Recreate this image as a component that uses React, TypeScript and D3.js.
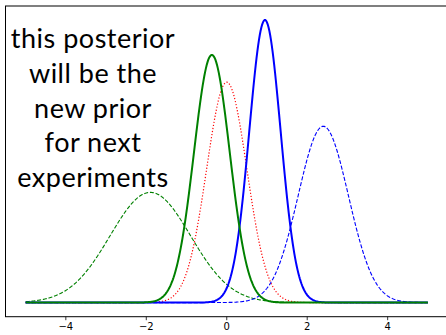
import React from 'react'
import * as d3 from 'd3'

// curve parameters (normal pdfs)
const curveNames = ['prior2', 'likelihood1', 'prior1', 'posterior1', 'posterior2']
const curveMeans = [-1.9, 0.0, 2.4, 0.95, -0.37]
const curveSigmas = [1.0, 0.5, 0.625, 0.39, 0.445]
const curveColors = ['green', 'red', 'blue', 'blue', 'green']
const curveDash = ['4,1.8', '1.2,1.9', '4,1.8', '', '']
const curveWidths = [1.1, 1.2, 1.1, 2, 2]

const xTicks = [-4, -2, 0, 2, 4]
const noteLines = ['this posterior', 'will be the', 'new prior', 'for next', 'experiments']

const W = 446
const H = 335
const margin = { left: 5.5, top: 6, right: -2, bottom: 18.3 }

const pdf = (x: number, mu: number, s: number) =>
  Math.exp(-0.5 * ((x - mu) / s) ** 2) / (s * Math.sqrt(2 * Math.PI))

const App: React.FC = () => {
  const xs = d3.range(0, 501).map(i => -5 + i * 0.02)
  const series = curveNames.map((name, i) => ({
    name,
    color: curveColors[i],
    dash: curveDash[i],
    width: curveWidths[i],
    points: xs.map(x => ({ x, y: pdf(x, curveMeans[i], curveSigmas[i]) })),
  }))

  const yMax = d3.max(series, s => d3.max(s.points, p => p.y)) || 1
  const pad = yMax * 0.05

  const x = d3.scaleLinear().domain([-5.5, 5.5]).range([margin.left, W - margin.right])
  const y = d3.scaleLinear().domain([-pad, yMax + pad]).range([H - margin.bottom, margin.top])

  const line = d3.line<{ x: number; y: number }>().x(d => x(d.x)).y(d => y(d.y))

  const bottom = H - margin.bottom
  const tickFmt = (v: number) => (v < 0 ? '\u2212' + Math.abs(v) : String(v))

  return (
    <svg width={W} height={H} style={{ position: 'absolute', left: 0, top: 0, background: '#fff' }}>
      <rect x={0} y={0} width={W} height={H} fill="#fff" />
      {series.map(s => (
        <path
          key={s.name}
          d={line(s.points) || ''}
          fill="none"
          stroke={s.color}
          strokeWidth={s.width}
          strokeDasharray={s.dash || undefined}
        />
      ))}
      {/* spines */}
      <rect
        x={margin.left}
        y={margin.top}
        width={W - margin.right - margin.left}
        height={bottom - margin.top}
        fill="none"
        stroke="#000"
        strokeWidth={1}
      />
      {xTicks.map(t => (
        <g key={t} transform={`translate(${x(t)},${bottom})`}>
          <line y1={0} y2={3.5} stroke="#000" strokeWidth={0.8} />
          <text
            y={13}
            textAnchor="middle"
            fontFamily="DejaVu Sans"
            fontSize={10}
            fill="#000"
          >
            {tickFmt(t)}
          </text>
        </g>
      ))}
      <text fontFamily="Lato" fontSize={27} letterSpacing={0.5} fill="#000" textAnchor="middle">
        {noteLines.map((l, i) => (
          <tspan key={i} x={93} y={48.3 + i * 34.6}>
            {l}
          </tspan>
        ))}
      </text>
    </svg>
  )
}

export default App
